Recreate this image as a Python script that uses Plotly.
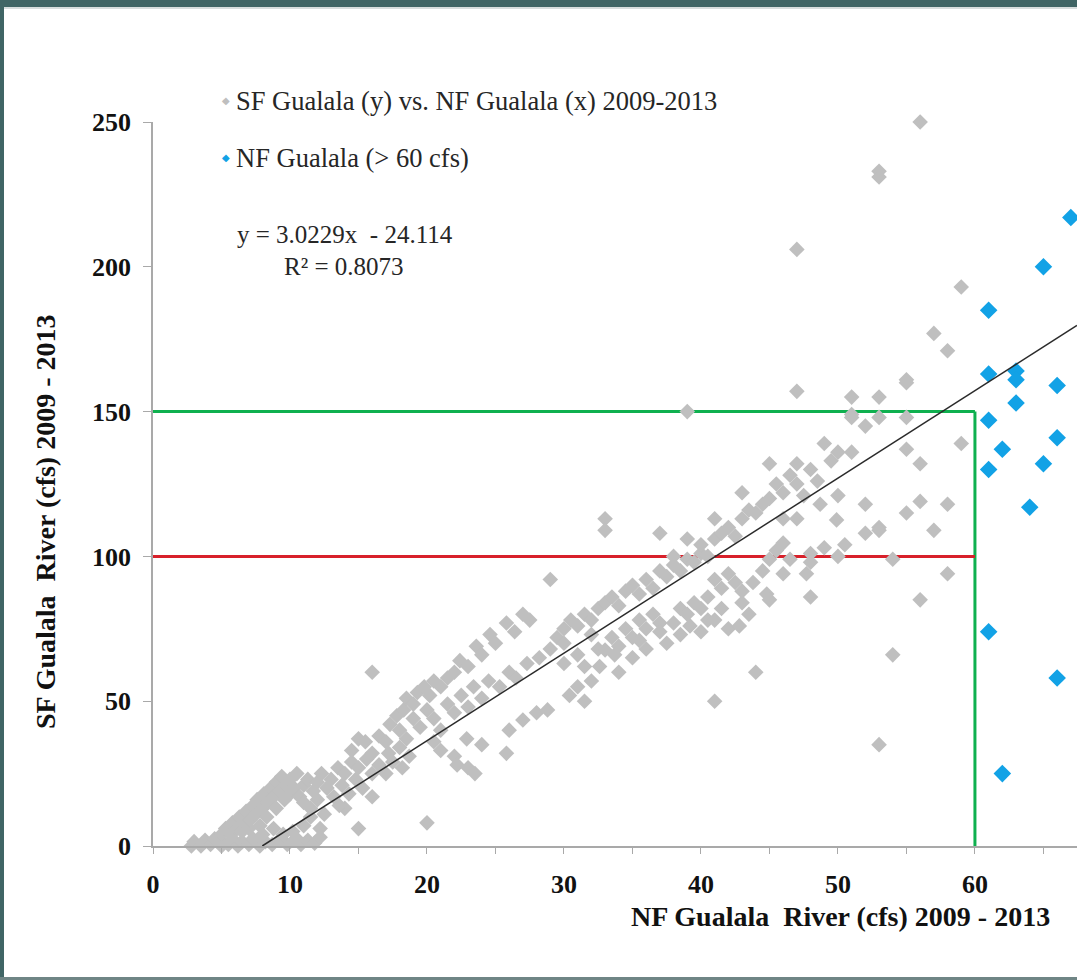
import plotly.graph_objects as go

# ---------------- data ----------------
gray_origin = [(2.8,0),(3,1.5),(3.5,0),(3.8,2),(4.2,0.5),(4.5,2.5),(5,0),(5,1.5),(5.5,0.5),(5.8,2.5),
               (6.2,0),(6.5,1.5),(7,0.5),(7.3,2.5),(7.8,0),(8.2,1.5),(8.7,0.5),(9.2,2),(9.8,0.5),
               (10.3,2),(10.8,0.5),(11.3,2),(11.8,1),(12.2,3),(8,4),(8.8,6),(9.5,4),(10.2,5),(11,7),
               (11.5,10),(12.2,6),(10.5,2.5),(15,6),(20,8),(14,13)]
gray_steep = [(5,4),(5.3,6),(5.7,4),(5.8,8),(6.1,6),(6.3,10),(6.5,5),(6.6,8),(6.8,12),(7,6),(7.1,9),
              (7.3,14),(7.5,11),(7.6,16),(7.8,7),(8,13),(8.1,18),(8.3,10),(8.4,15),(8.6,20),(8.8,17),
              (9,22),(9,13),(9.2,19),(9.4,24),(9.6,16),(9.7,21),(10,18),(10,23),(10.3,20),(10.5,25),
              (10.7,17),(11,21),(11,15),(11.3,23),(11.5,13),(11.7,19),(12,22),(12,16),(12.3,25),
              (12.5,11),(12.7,20),(13,23),(13.2,17),(13.5,27),(13.6,14),(13.8,21),(14,25),(14.3,18),
              (14.5,29),(14.8,23),(15,27),(15.3,20),(15.6,30),(16,25),(16,17),(16.5,28),(17,25),
              (17.2,32),(17.5,29),(18,34),(18.2,27),(18.7,31),(16,60),(15,37),(16,32)]
gray_band20 = [(14.5,33),(15.5,36),(16.5,38),(17.3,42),(17.8,45),(18.3,47),(18.5,51),(19,49),(19.3,53),
               (19.8,55),(20.2,52),(20.5,57),(21,55),(21.5,58),(22,60),(22.4,64),(23,62),(23.6,69),
               (24,66),(24.6,73),(25,70),(25.8,77),(26.4,74),(27,80),(27.5,78),
               (17,36),(18,40),(18.5,37),(19,44),(19.5,41),(20,47),(20.5,44),(21,40),(21.5,49),(22,46),
               (22.5,52),(23,48),(23.4,55),(24,51),(24.5,57),(25.3,55),(26,60),(26.5,58),(27.3,63),
               (28.2,65),(29,68),(29.5,72),(30,70),
               (20.5,36),(21,33),(22,31),(22.9,37),(22.2,28),(23,27),(23.5,25),(24,35),(25.8,32),
               (26,40),(27,43.5),(28,46),(28.8,47)]
gray_band35 = [(29,92),(30,75),(30.5,78),(31,76),(31.5,80),(32,78),(32.5,82),(33,84),(33.5,86),(34,83),
               (34.5,88),(35,90),(35.5,87),(36,92),(36.5,89),(37,95),(37.5,93),(38,97),(38.5,95),
               (39,99),(39.5,98),(40,101),(33,113),(33,109),(37,108),(39,106),(38,100),
               (30,63),(31,66),(31.5,62),(32,73),(32.5,68),(33,67.7),(33.5,72),(34,69),(34.5,75),
               (35,72),(35.5,78),(36,75),(36.5,80),(37,77),(38,77),(38.5,82),(39,80),(39.5,84),
               (40,82),(40.5,86),
               (30.4,52),(31,55),(31.5,50),(32,57),(32.6,62),(33.7,66),(34,60),(35,65),(35.5,71),
               (36,68),(37,74),(37.5,70),(38.5,73),(39.2,76),(40,74),(40.5,78)]
gray_band45 = [(40,104),(40.5,100),(41,106),(41,113),(41.5,108),(42,110),(42.5,107),(43,113),(43,122),
               (43.5,116),(44,115),(44.5,118),(45,120),(45,132),(45.5,125),(46,122),(46.5,128),
               (47,132),(47,125),(47.5,121),(48,130),(48.5,126),(49,139),(49.5,133),(50,136),
               (50,121),(51,149),(51,136),(52,118),(52,145),(51,155),(53,155),(55,160),(47,157),
               (41,92),(41.5,89),(42,94),(42.5,91),(43,88),(43.8,91),(44.5,95),(44.8,87),(45,99),
               (45.5,102),(46,94),(46,104.6),(46.5,99),(47,113),(46,113),(47.7,94),(48,101),
               (48.7,118),(49,103),(50.5,104),(48,86),(49.9,112.6),
               (41,78),(41.5,82),(42,75),(42.8,76),(43,84),(43.5,80),(44,60),(41,50),(45,85)]
gray_high = [(51,148),(53,148),(52,108),(53,110),(53,109),(54,99),(53,35),(54,66),(55,115),(55,137),
             (55,148),(56,132),(56,119),(56,85),(57,109),(58,118),(58,94),(59,139),(55,161),
             (57,177),(58,171),(59,193),(56,250),(53,233),(53,231),(47,206),(50,100),(48,98),(39,150)]

blue_x = [67, 65, 61, 61, 63, 63, 66, 63, 61, 66, 62, 61, 65, 64, 61, 66, 62]
blue_y = [217, 200, 185, 163, 164, 161, 159, 153, 147, 141, 137, 130, 132, 117, 74, 58, 25]

trend_slope = 3.0229
trend_intercept = -24.114
threshold_x = 60
green_y = 150
red_y = 100
x_max = 67.45
y_max = 250

gray_all = gray_origin + gray_steep + gray_band20 + gray_band35 + gray_band45 + gray_high
gray_x = [p[0] for p in gray_all]
gray_y = [p[1] for p in gray_all]

# ---------------- layout geometry ----------------
W, H = 1077, 980
ML, MR, MT, MB = 153, 0, 122, 134
PW, PH = W - ML - MR, H - MT - MB

def fx(px):
    return (px - ML) / PW

def fy(py):
    return (H - MB - py) / PH

SERIF = "Liberation Serif, Times New Roman, serif"
TEAL = "#406565"
GRAY = "#bfbfbf"
BLUE = "#12a2e6"

fig = go.Figure()

# reference lines
fig.add_trace(go.Scatter(x=[0, threshold_x], y=[green_y, green_y], mode="lines",
                         line=dict(color="#0fb04f", width=3), showlegend=False, hoverinfo="skip"))
fig.add_trace(go.Scatter(x=[threshold_x, threshold_x], y=[0, green_y], mode="lines",
                         line=dict(color="#0fb04f", width=3), showlegend=False, hoverinfo="skip"))
fig.add_trace(go.Scatter(x=[0, threshold_x], y=[red_y, red_y], mode="lines",
                         line=dict(color="#d8202a", width=3), showlegend=False, hoverinfo="skip"))

fig.add_trace(go.Scatter(x=gray_x, y=gray_y, mode="markers", cliponaxis=False,
                         marker=dict(symbol="diamond", size=12, color=GRAY),
                         name="SF Gualala (y) vs. NF Gualala (x) 2009-2013", showlegend=False))
fig.add_trace(go.Scatter(x=blue_x, y=blue_y, mode="markers", cliponaxis=False,
                         marker=dict(symbol="diamond", size=13.5, color=BLUE),
                         name="NF Gualala (> 60 cfs)", showlegend=False))

# trendline from the regression equation
x_start = -trend_intercept / trend_slope
tx = [x_start, x_max]
ty = [trend_slope * v + trend_intercept for v in tx]
fig.add_trace(go.Scatter(x=tx, y=ty, mode="lines", line=dict(color="#2b2b2b", width=1.5),
                         showlegend=False, hoverinfo="skip"))

# frame
shapes = [
    dict(type="rect", xref="paper", yref="paper", x0=fx(0), x1=fx(W), y0=fy(7), y1=fy(0),
         fillcolor=TEAL, line=dict(width=0), layer="above"),
    dict(type="rect", xref="paper", yref="paper", x0=fx(0), x1=fx(W), y0=fy(9), y1=fy(7),
         fillcolor="#d8dede", line=dict(width=0), layer="above"),
    dict(type="rect", xref="paper", yref="paper", x0=fx(0), x1=fx(4), y0=fy(H), y1=fy(0),
         fillcolor=TEAL, line=dict(width=0), layer="above"),
    dict(type="rect", xref="paper", yref="paper", x0=fx(0), x1=fx(W), y0=fy(H), y1=fy(977),
         fillcolor="#6f8585", line=dict(width=0), layer="above"),
]

annotations = [
    dict(xref="paper", yref="paper", x=fx(226), y=fy(100), text="◆", showarrow=False,
         font=dict(family="DejaVu Sans", size=10, color=GRAY), xanchor="center", yanchor="middle"),
    dict(xref="paper", yref="paper", x=fx(234), y=fy(101),
         text="SF Gualala (y) vs. NF Gualala (x) 2009-2013", showarrow=False,
         font=dict(family=SERIF, size=26.5, color="#262626"), xanchor="left", yanchor="middle"),
    dict(xref="paper", yref="paper", x=fx(226), y=fy(157), text="◆", showarrow=False,
         font=dict(family="DejaVu Sans", size=10, color=BLUE), xanchor="center", yanchor="middle"),
    dict(xref="paper", yref="paper", x=fx(234), y=fy(158),
         text="NF Gualala (> 60 cfs)", showarrow=False,
         font=dict(family=SERIF, size=26.5, color="#262626"), xanchor="left", yanchor="middle"),
    dict(xref="paper", yref="paper", x=fx(235), y=fy(234),
         text="y = 3.0229x  - 24.114", showarrow=False,
         font=dict(family=SERIF, size=25, color="#262626"), xanchor="left", yanchor="middle"),
    dict(xref="paper", yref="paper", x=fx(282), y=fy(266),
         text="R² = 0.8073", showarrow=False,
         font=dict(family=SERIF, size=25, color="#262626"), xanchor="left", yanchor="middle"),
    dict(xref="paper", yref="paper", x=fx(1052), y=fy(916),
         text="<b>NF Gualala  River (cfs) 2009 - 2013</b>", showarrow=False,
         font=dict(family=SERIF, size=28, color="#111111"), xanchor="right", yanchor="middle"),
    dict(xref="paper", yref="paper", x=fx(45), y=fy(522),
         text="<b>SF Gualala  River (cfs) 2009 - 2013</b>", showarrow=False, textangle=-90,
         font=dict(family=SERIF, size=28, color="#111111"), xanchor="center", yanchor="middle"),
]

fig.update_layout(
    width=W, height=H,
    margin=dict(l=ML, r=MR, t=MT, b=MB, pad=0),
    paper_bgcolor="white", plot_bgcolor="white",
    showlegend=False,
    shapes=shapes, annotations=annotations,
    xaxis=dict(range=[0, x_max], showgrid=False, zeroline=False, showline=True,
               linecolor="#a9a9a9", linewidth=1.5, ticks="outside", ticklen=6,
               tickcolor="#a9a9a9", tickwidth=1, dtick=10, tick0=0,
               minor=dict(dtick=5, ticks="outside", ticklen=6, tickcolor="#a9a9a9"),
               tickfont=dict(family=SERIF, size=26, color="#111111"),
               tickprefix="<b>", ticksuffix="</b>", ticklabelstandoff=8),
    yaxis=dict(range=[0, y_max], showgrid=False, zeroline=False, showline=True,
               linecolor="#a9a9a9", linewidth=1.5, ticks="outside", ticklen=8,
               tickcolor="#a9a9a9", tickwidth=1, dtick=50, tick0=0,
               tickfont=dict(family=SERIF, size=26, color="#111111"),
               tickprefix="<b>", ticksuffix="</b>", ticklabelstandoff=7),
)

fig.write_html("out.html", config={"displayModeBar": False},
               post_script="document.body.style.margin='0';")
